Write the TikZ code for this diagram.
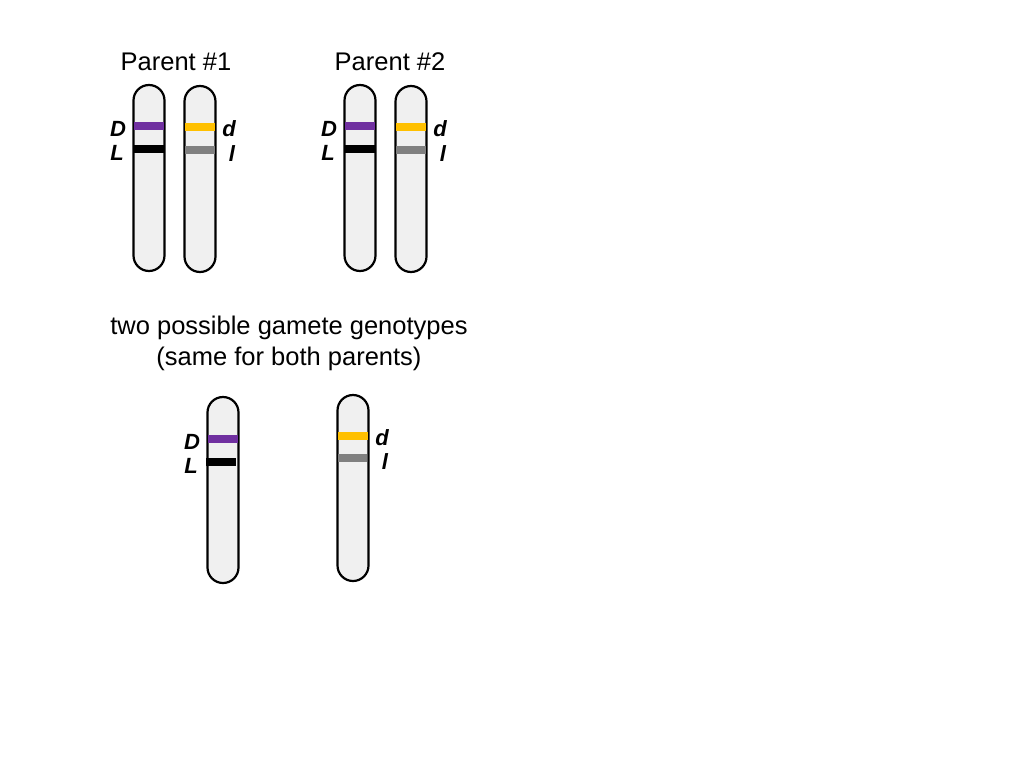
\documentclass[tikz,border=0pt]{standalone}
\usepackage{fontspec}
\setmainfont{Liberation Sans}
\begin{document}
\begin{tikzpicture}[x=1pt,y=-1pt,
  chrom/.style={draw=black, line width=2.2pt, fill=chromfill, rounded corners=15.5pt, minimum width=31pt, inner sep=0pt},
  band/.style={line width=8pt},
  gene/.style={font=\fontsize{22}{22}\selectfont\bfseries\itshape, inner sep=0pt},
  title/.style={font=\fontsize{25.5}{31}\selectfont, align=center, inner sep=0pt}]
\definecolor{chromfill}{HTML}{F0F0F0}
\definecolor{bpurple}{HTML}{7030A0}
\definecolor{byellow}{HTML}{FFC000}
\definecolor{bgray}{HTML}{808080}
\useasboundingbox[fill=white] (0,0) rectangle (1024,768);
% titles
\node[title] (t1) at (176,62) {Parent \#1};
\node[title] (t2) at (390,62) {Parent \#2};
\node[title] (t3) at (289,343) {two possible gamete genotypes\\(same for both parents)};
% parent 1
\node[chrom, minimum height=186pt] (a1) at (149,178) {};
\node[chrom, minimum height=186pt] (a2) at (200,179) {};
\draw[band, bpurple] (134,126) -- (164,126);
\draw[band, black] (134,149) -- (164,149);
\draw[band, byellow] (185,127) -- (215,127);
\draw[band, bgray] (185,150) -- (215,150);
\node[gene] (a1D) at (118,129) {D};
\node[gene] (a1L) at (117,153) {L};
\node[gene] (a2d) at (229,129) {d};
\node[gene] (a2l) at (232,154) {l};
% parent 2
\node[chrom, minimum height=186pt] (b1) at (360,178) {};
\node[chrom, minimum height=186pt] (b2) at (411,179) {};
\draw[band, bpurple] (345,126) -- (375,126);
\draw[band, black] (345,149) -- (375,149);
\draw[band, byellow] (396,127) -- (426,127);
\draw[band, bgray] (396,150) -- (426,150);
\node[gene] (b1D) at (329,129) {D};
\node[gene] (b1L) at (328,153) {L};
\node[gene] (b2d) at (440,129) {d};
\node[gene] (b2l) at (443,154) {l};
% gametes
\node[chrom, minimum height=186pt] (g1) at (223,490) {};
\node[chrom, minimum height=186pt] (g2) at (353,488) {};
\draw[band, bpurple] (208,439) -- (238,439);
\draw[band, black] (206,462) -- (236,462);
\draw[band, byellow] (338,436) -- (368,436);
\draw[band, bgray] (338,458) -- (367,458);
\node[gene] (g1D) at (192,442) {D};
\node[gene] (g1L) at (191,466) {L};
\node[gene] (g2d) at (382,438) {d};
\node[gene] (g2l) at (385,462) {l};
\end{tikzpicture}
\end{document}
